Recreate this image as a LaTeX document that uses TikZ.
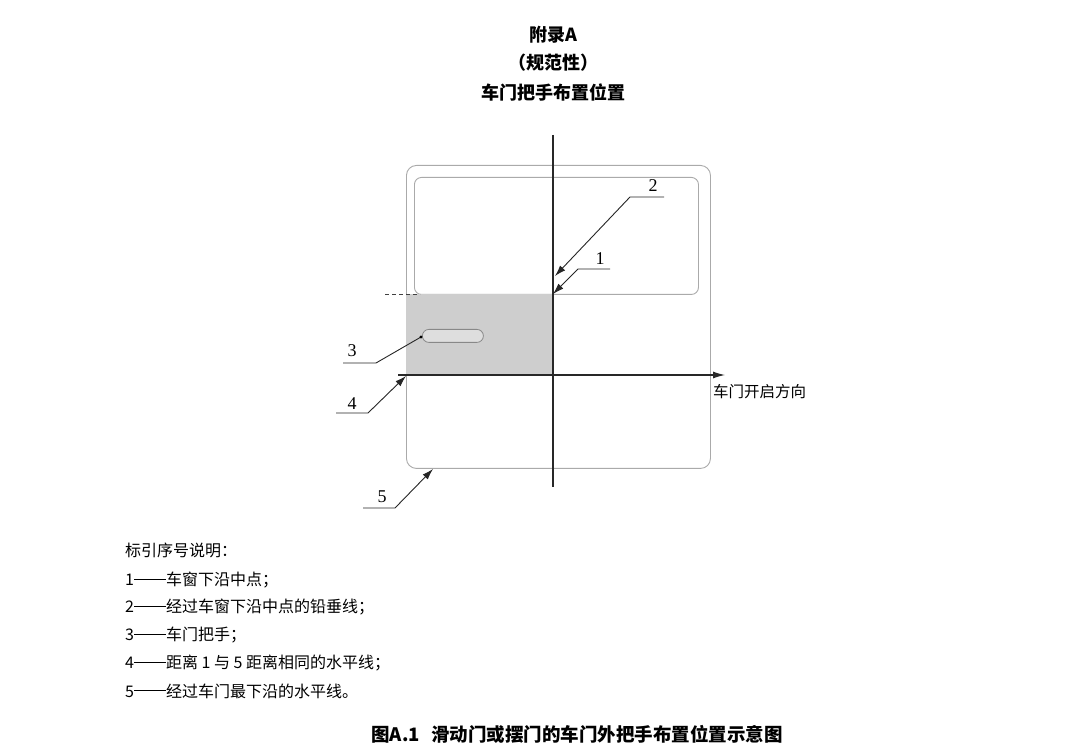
\documentclass[tikz,border=0pt]{standalone}
\usepackage{fontspec}
\setmainfont{Liberation Serif}
\newfontfamily\cjk{Noto Sans CJK SC}
\usetikzlibrary{arrows.meta}
\definecolor{outl}{RGB}{170,170,170}
\definecolor{shade}{RGB}{206,206,206}
\definecolor{handlefill}{RGB}{222,222,222}
\definecolor{axcol}{RGB}{40,40,40}
\newcommand{\ldash}{\makebox[2em][c]{\rule[0.36em]{1.95em}{0.055em}}}
\tikzset{
  titletext/.style={font=\cjk\bfseries\fontsize{18}{20}\selectfont, inner sep=0pt},
  captext/.style={font=\cjk\bfseries\fontsize{18.5}{20}\selectfont, inner sep=0pt},
  legtext/.style={font=\cjk\fontsize{16}{18}\selectfont, anchor=west, inner sep=0pt},
  dirtext/.style={font=\cjk\fontsize{15.5}{17}\selectfont, anchor=west, inner sep=0pt},
  numtext/.style={font=\fontsize{18}{20}\selectfont, inner sep=0pt},
  outline/.style={draw=outl, line width=0.9pt, inner sep=0pt},
  axisline/.style={draw=axcol, line width=1.1pt},
  leader/.style={draw=black!85, line width=0.9pt},
  leadarrow/.style={leader, -{Latex[length=11pt,width=7pt]}},
}
\begin{document}
\begin{tikzpicture}[x=1pt,y=-1pt]
\useasboundingbox (0,0) rectangle (1080,751);
\fill[white] (0,0) rectangle (1080,751);
% titles
\node[titletext] (t1) at (553,35) {附录A};
\node[titletext] (t2) at (553,63) {（规范性）};
\node[titletext] (t3) at (553,93) {车门把手布置位置};
% door and window
\node[outline, rounded corners=10pt, minimum width=304pt, minimum height=303pt, anchor=north west] (door) at (406,165) {};
\node[outline, rounded corners=7pt, minimum width=284pt, minimum height=117pt, anchor=north west] (window) at (414,177) {};
% shaded zone
\node[fill=shade, inner sep=0pt, minimum width=147pt, minimum height=81pt, anchor=north west] (zone) at (406,294) {};
% handle
\node[draw=outl!80!black, fill=handlefill, line width=0.8pt, rounded corners=6.5pt, inner sep=0pt, minimum width=61pt, minimum height=13pt, anchor=north west] (handle) at (422,329) {};
% dashed line
\coordinate (da) at (385,294);
\coordinate (db) at (420,294);
\draw[black!75, line width=0.9pt, dash pattern=on 4pt off 3pt] (da) -- (db);
% vertical line
\coordinate (vtop) at (553,135);
\coordinate (vbot) at (553,487);
\draw[axisline] (vtop) -- (vbot);
% horizontal axis
\coordinate (hs) at (398,375);
\coordinate (he) at (725,375);
\draw[axisline, -{Latex[length=12pt,width=7pt]}] (hs) -- (he);
\node[dirtext] (dir) at (713,392) {车门开启方向};
% leader 1
\coordinate (p1) at (553,294);
\coordinate (e1) at (578,269);
\coordinate (f1) at (610,269);
\node[numtext] (n1) at (600,259) {1};
\draw[leadarrow] (f1) -- (e1) -- (p1);
% leader 2
\coordinate (p2) at (555,276);
\coordinate (e2) at (630,197);
\coordinate (f2) at (664,197);
\node[numtext] (n2) at (653,186) {2};
\draw[leadarrow] (f2) -- (e2) -- (p2);
% leader 3
\coordinate (p3) at (421,337);
\coordinate (e3) at (376,363);
\coordinate (f3) at (343,363);
\node[numtext] (n3) at (352,351) {3};
\draw[leader] (f3) -- (e3) -- (p3);
\fill[black] (p3) circle (1.6pt);
% leader 4
\coordinate (p4) at (406,376);
\coordinate (e4) at (368,413);
\coordinate (f4) at (336,413);
\node[numtext] (n4) at (352,404) {4};
\draw[leadarrow] (f4) -- (e4) -- (p4);
% leader 5
\coordinate (p5) at (433,469);
\coordinate (e5) at (395,508);
\coordinate (f5) at (363,508);
\node[numtext] (n5) at (382,497) {5};
\draw[leadarrow] (f5) -- (e5) -- (p5);
% legend
\node[legtext] (l0) at (125,550) {标引序号说明：};
\node[legtext] (l1) at (125,580) {1\ldash 车窗下沿中点；};
\node[legtext] (l2) at (125,607) {2\ldash 经过车窗下沿中点的铅垂线；};
\node[legtext] (l3) at (125,635) {3\ldash 车门把手；};
\node[legtext] (l4) at (125,663) {4\ldash 距离 1 与 5 距离相同的水平线；};
\node[legtext] (l5) at (125,691) {5\ldash 经过车门最下沿的水平线。};
% caption
\node[captext] (cap) at (577,734) {图A.1\hspace{0.6em}滑动门或摆门的车门外把手布置位置示意图};
\end{tikzpicture}
\end{document}
